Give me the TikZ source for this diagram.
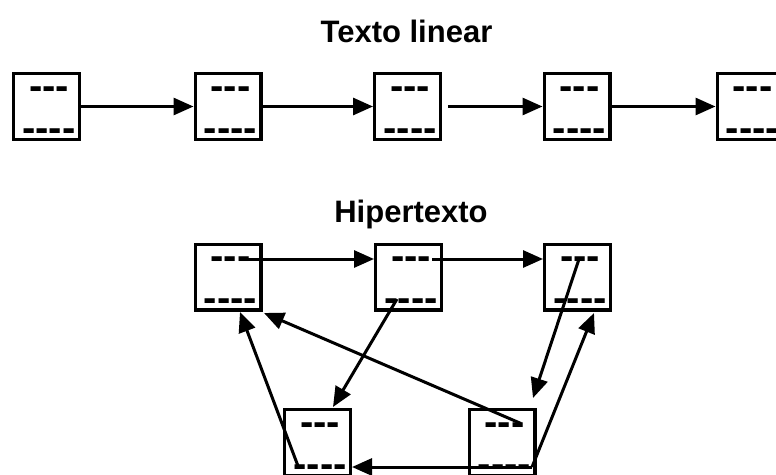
\documentclass[tikz,border=0pt]{standalone}
\usepackage{fontspec}
\setmainfont{Liberation Sans}
\newfontfamily\dashfont{Liberation Sans}
\usetikzlibrary{arrows.meta,calc}

\tikzset{
  card/.style={draw=black, line width=3.4pt, minimum size=65.6pt, inner sep=0pt, fill=white},
  dashes/.style={font=\dashfont\bfseries\fontsize{40}{40}\selectfont, inner sep=0pt, anchor=mid},
  heading/.style={font=\bfseries\fontsize{31}{33}\selectfont, inner sep=0pt, anchor=base},
  link/.style={line width=3pt, -{Triangle[length=20pt,width=17pt]}},
}

% a card: box plus a short and a long row of dashes
\newcommand{\card}[3]{%
  \node[card] (#1) at (#2,#3) {};
  \node[dashes] (#1t) at ($(#1.center)+(2.5,-10)$) {---};
  \node[dashes] (#1b) at ($(#1.center)+(2.5,32)$) {----};
}

\begin{document}
\begin{tikzpicture}[x=1pt,y=-1pt]
\clip (0,0) rectangle (776,474);
\fill[white] (0,0) rectangle (776,474);

% ---------- linear text ----------
\node[heading] (t1) at (406.5,42) {Texto linear};
\card{L1}{46.5}{106.5}
\card{L2}{228}{106.5}
\card{L3}{407.5}{106.5}
\card{L4}{577}{106.5}
\card{L5}{750}{106.5}

\draw[link] (L1.east) -- (L2.west);
\draw[link] (L2.east) -- (L3.west);
\draw[link, shorten <=6pt] (L3.east) -- (L4.west);
\draw[link] (L4.east) -- (L5.west);

% ---------- hypertext ----------
\node[heading] (t2) at (411,222) {Hipertexto};
\card{H1}{228}{277}
\card{H2}{408.5}{277}
\card{H3}{577.5}{277}
\card{H4}{317.5}{442.5}
\card{H5}{502}{442.5}

% link end points on the dash rows
\coordinate (a1) at ($(H1.center)+(19,-18)$);
\coordinate (a2) at ($(H2.center)+(23.5,-18)$);
\coordinate (a3) at ($(H2.center)+(-11.5,22)$);
\coordinate (a4) at ($(H3.center)+(1.5,-18)$);
\coordinate (a5) at ($(H5.center)+(30,24.5)$);
\coordinate (a6) at ($(H5.center)+(19,-19)$);
\coordinate (a7) at ($(H4.center)+(-19.5,23.5)$);

\coordinate (e3) at ($(H4.center)+(15.5,-35.5)$);
\coordinate (e4) at ($(H5.center)+(31,-44.5)$);
\coordinate (e5) at ($(H3.center)+(16.5,36)$);
\coordinate (e6) at ($(H1.center)+(36,36)$);
\coordinate (e7) at ($(H1.center)+(12,35)$);

\draw[link] (a1) -- (a1 -| H2.west);
\draw[link] (a2) -- (a2 -| H3.west);
\draw[link] (a3) -- (e3);
\draw[link] (a4) -- (e4);
\draw[link] (a5) -- (e5);
\draw[link] (a6) -- (e6);
\draw[link] (a7) -- (e7);
\draw[link] (a5) -- (a5 -| H4.east);
\end{tikzpicture}
\end{document}
